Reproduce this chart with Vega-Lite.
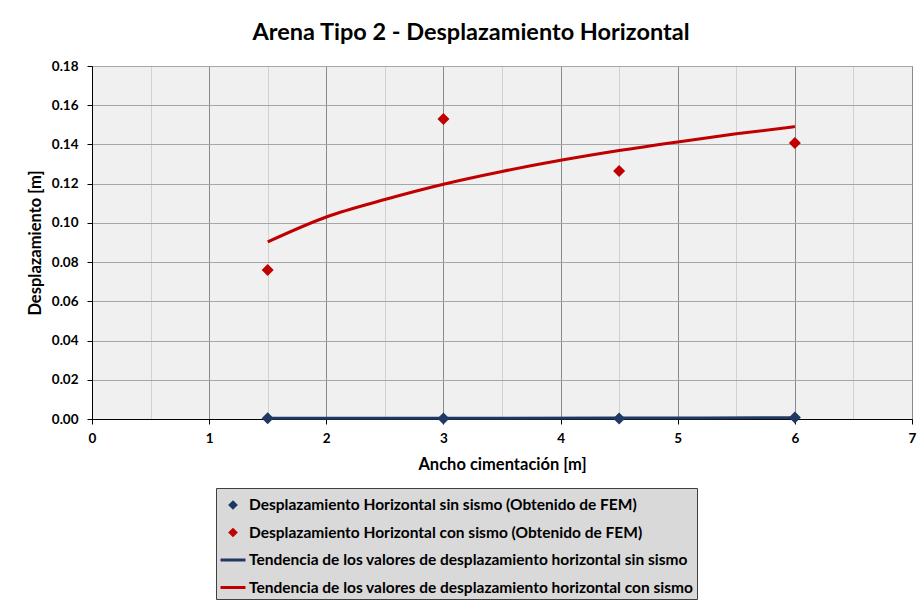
{
  "$schema": "https://vega.github.io/schema/vega-lite/v6.json",
  "autosize": {"type": "none"},
  "width": 820,
  "height": 353,
  "padding": {"left": 92, "top": 66, "right": 12, "bottom": 186},
  "background": "white",
  "title": {
    "text": "Arena Tipo 2 - Desplazamiento Horizontal",
    "font": "Lato",
    "fontSize": 23.5,
    "fontWeight": "bold",
    "color": "black",
    "anchor": "middle",
    "dx": -31,
    "offset": 15
  },
  "config": {
    "view": {"fill": "#f0f0f0", "stroke": "#a0a0a0"},
    "font": "Lato"
  },
  "data": {
    "values": [
      {"serie": "Desplazamiento Horizontal sin sismo (Obtenido de FEM)", "tipo": "punto", "x": 1.5, "y": 0.0004},
      {"serie": "Desplazamiento Horizontal sin sismo (Obtenido de FEM)", "tipo": "punto", "x": 3, "y": 0.0003},
      {"serie": "Desplazamiento Horizontal sin sismo (Obtenido de FEM)", "tipo": "punto", "x": 4.5, "y": 0.0003},
      {"serie": "Desplazamiento Horizontal sin sismo (Obtenido de FEM)", "tipo": "punto", "x": 6, "y": 0.0008},
      {"serie": "Desplazamiento Horizontal con sismo (Obtenido de FEM)", "tipo": "punto", "x": 1.5, "y": 0.076},
      {"serie": "Desplazamiento Horizontal con sismo (Obtenido de FEM)", "tipo": "punto", "x": 3, "y": 0.153},
      {"serie": "Desplazamiento Horizontal con sismo (Obtenido de FEM)", "tipo": "punto", "x": 4.5, "y": 0.1265},
      {"serie": "Desplazamiento Horizontal con sismo (Obtenido de FEM)", "tipo": "punto", "x": 6, "y": 0.1407},
      {"serie": "Tendencia de los valores de desplazamiento horizontal sin sismo", "tipo": "tendencia", "x": 1.5, "y": 0.0004},
      {"serie": "Tendencia de los valores de desplazamiento horizontal sin sismo", "tipo": "tendencia", "x": 3, "y": 0.0004},
      {"serie": "Tendencia de los valores de desplazamiento horizontal sin sismo", "tipo": "tendencia", "x": 4.5, "y": 0.0005},
      {"serie": "Tendencia de los valores de desplazamiento horizontal sin sismo", "tipo": "tendencia", "x": 6, "y": 0.0006},
      {"serie": "Tendencia de los valores de desplazamiento horizontal con sismo", "tipo": "tendencia", "x": 1.5, "y": 0.0903},
      {"serie": "Tendencia de los valores de desplazamiento horizontal con sismo", "tipo": "tendencia", "x": 2, "y": 0.103},
      {"serie": "Tendencia de los valores de desplazamiento horizontal con sismo", "tipo": "tendencia", "x": 2.5, "y": 0.1119},
      {"serie": "Tendencia de los valores de desplazamiento horizontal con sismo", "tipo": "tendencia", "x": 3, "y": 0.1197},
      {"serie": "Tendencia de los valores de desplazamiento horizontal con sismo", "tipo": "tendencia", "x": 3.5, "y": 0.1262},
      {"serie": "Tendencia de los valores de desplazamiento horizontal con sismo", "tipo": "tendencia", "x": 4, "y": 0.1319},
      {"serie": "Tendencia de los valores de desplazamiento horizontal con sismo", "tipo": "tendencia", "x": 4.5, "y": 0.1369},
      {"serie": "Tendencia de los valores de desplazamiento horizontal con sismo", "tipo": "tendencia", "x": 5, "y": 0.1413},
      {"serie": "Tendencia de los valores de desplazamiento horizontal con sismo", "tipo": "tendencia", "x": 5.5, "y": 0.1454},
      {"serie": "Tendencia de los valores de desplazamiento horizontal con sismo", "tipo": "tendencia", "x": 6, "y": 0.1491}
    ]
  },
  "encoding": {
    "x": {
      "field": "x",
      "type": "quantitative",
      "scale": {"domain": [0, 7], "nice": false, "zero": false},
      "axis": {
        "title": "Ancho cimentación [m]",
        "values": [0, 0.5, 1, 1.5, 2, 2.5, 3, 3.5, 4, 4.5, 5, 5.5, 6, 6.5, 7],
        "labelExpr": "datum.value % 1 === 0 ? format(datum.value, 'd') : ''",
        "grid": true,
        "gridColor": {"condition": {"test": "datum.value % 1 === 0", "value": "#8a8a8a"}, "value": "#d2d2d2"},
        "gridWidth": 1,
        "tickOpacity": {"condition": {"test": "datum.value % 1 === 0", "value": 1}, "value": 0},
        "tickColor": "black",
        "tickSize": 5,
        "domainColor": "black",
        "domainWidth": 1,
        "labelFont": "Lato",
        "labelFontSize": 13.5,
        "labelFontWeight": "bold",
        "labelColor": "black",
        "labelPadding": 7,
        "labelFlush": false,
        "titleFont": "Lato",
        "titleFontSize": 16.5,
        "titleFontWeight": "bold",
        "titleColor": "black",
        "titlePadding": 12
      }
    },
    "y": {
      "field": "y",
      "type": "quantitative",
      "scale": {"domain": [0, 0.18], "nice": false},
      "axis": {
        "title": "Desplazamiento [m]",
        "values": [0, 0.02, 0.04, 0.06, 0.08, 0.1, 0.12, 0.14, 0.16, 0.18],
        "format": ".2f",
        "grid": true,
        "gridColor": "#a6a6a6",
        "tickColor": "black",
        "tickSize": 5,
        "domainColor": "black",
        "labelFont": "Lato",
        "labelFontSize": 13.5,
        "labelFontWeight": "bold",
        "labelColor": "black",
        "labelPadding": 9,
        "labelFlush": false,
        "titleFont": "Lato",
        "titleFontSize": 16.5,
        "titleFontWeight": "bold",
        "titleColor": "black",
        "titlePadding": 8
      }
    }
  },
  "layer": [
    {
      "transform": [{"filter": "datum.tipo === 'tendencia'"}],
      "mark": {"type": "line", "strokeWidth": 3, "interpolate": "monotone"},
      "encoding": {
        "stroke": {
          "field": "serie",
          "type": "nominal",
          "scale": {
            "domain": [
              "Tendencia de los valores de desplazamiento horizontal sin sismo",
              "Tendencia de los valores de desplazamiento horizontal con sismo"
            ],
            "range": ["#1f3864", "#c00000"]
          },
          "legend": null
        }
      }
    },
    {
      "transform": [{"filter": "datum.tipo === 'punto'"}],
      "mark": {"type": "point", "filled": true, "opacity": 1, "size": 2975},
      "encoding": {
        "color": {
          "field": "serie",
          "type": "nominal",
          "scale": {
            "domain": [
              "Desplazamiento Horizontal sin sismo (Obtenido de FEM)",
              "Desplazamiento Horizontal con sismo (Obtenido de FEM)",
              "Tendencia de los valores de desplazamiento horizontal sin sismo",
              "Tendencia de los valores de desplazamiento horizontal con sismo"
            ],
            "range": ["#1f3864", "#c00000", "#1f3864", "#c00000"]
          },
          "legend": {
            "title": null,
            "orient": "none",
            "legendX": 124,
            "legendY": 422,
            "direction": "vertical",
            "fillColor": "#d9d9d9",
            "strokeColor": "#404040",
            "padding": 3,
            "symbolSize": 625,
            "symbolStrokeWidth": 3,
            "symbolOpacity": 1,
            "labelFont": "Lato",
            "labelFontSize": 15.5,
            "labelFontWeight": "bold",
            "labelColor": "black",
            "labelLimit": 0,
            "labelOffset": 2,
            "rowPadding": 4.5,
            "encode": {
              "symbols": {
                "update": {
                  "stroke": {"signal": "scale('color', datum.value)"},
                  "strokeOpacity": {"value": 1}
                }
              }
            }
          }
        },
        "shape": {
          "field": "serie",
          "type": "nominal",
          "scale": {
            "domain": [
              "Desplazamiento Horizontal sin sismo (Obtenido de FEM)",
              "Desplazamiento Horizontal con sismo (Obtenido de FEM)",
              "Tendencia de los valores de desplazamiento horizontal sin sismo",
              "Tendencia de los valores de desplazamiento horizontal con sismo"
            ],
            "range": ["M0,-0.22L0.22,0L0,0.22L-0.22,0Z", "M0,-0.22L0.22,0L0,0.22L-0.22,0Z", "stroke", "stroke"]
          },
          "legend": {
            "title": null,
            "orient": "none",
            "legendX": 124,
            "legendY": 422
          }
        }
      }
    }
  ]
}
